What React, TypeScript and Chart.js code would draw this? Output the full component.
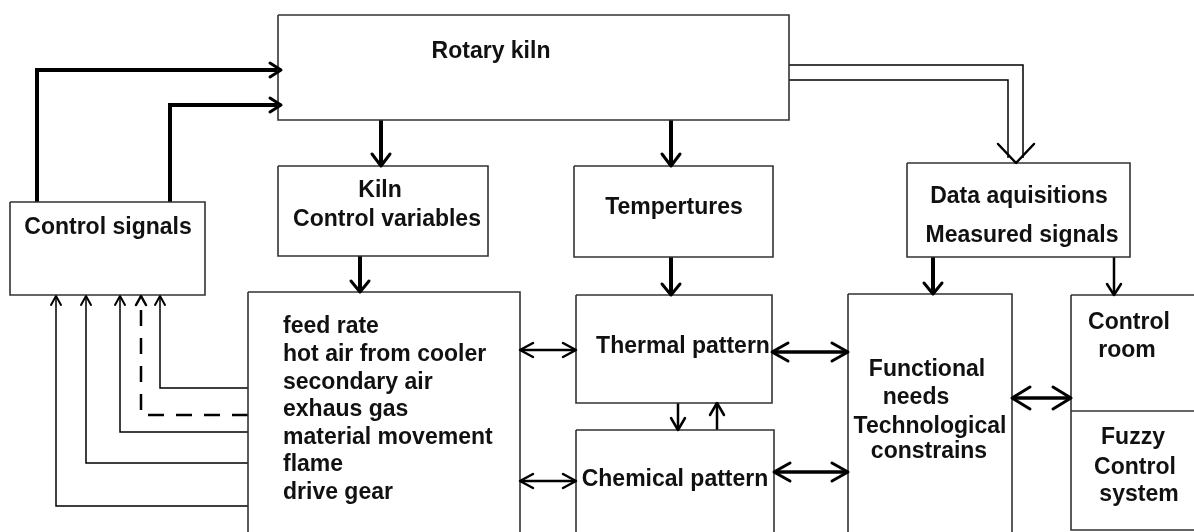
import React, { useEffect, useRef } from "react";
import { Chart, registerables } from "chart.js";

Chart.register(...registerables);

// Diagram blocks: [x1, y1, x2, y2] in diagram units (x: 0..1194, y: 0..532 downward)
const boxNames = ["Rotary kiln", "Control signals", "Kiln CV", "Temperatures", "Data acquisition", "Variables", "Thermal", "Chemical", "Functional", "Control room"];
const boxCoords: number[][] = [
  [278, 15, 789, 120],
  [10, 202, 205, 295],
  [278, 166, 488, 256],
  [574, 166, 773, 257],
  [907, 163, 1130, 257],
  [248, 292, 520, 545],
  [576, 295, 772, 403],
  [576, 430, 774, 545],
  [848, 294, 1012, 545],
  [1071, 295, 1205, 530],
];
const dividerLines: number[][][] = [
  [[1071, 411], [1205, 411]],
];

// Connectors: polyline points, line width, dash, arrow heads
const connectorPaths: number[][][] = [
  [[37, 202], [37, 70], [281, 70]],
  [[170, 202], [170, 105], [281, 105]],
  [[381, 120], [381, 166]],
  [[671, 120], [671, 166]],
  [[789, 65], [1023, 65], [1023, 158]],
  [[789, 80], [1008, 80], [1008, 158]],
  [[360, 256], [360, 292]],
  [[671, 257], [671, 295]],
  [[933, 257], [933, 294]],
  [[1114, 257], [1114, 295]],
  [[248, 388], [160, 388], [160, 296]],
  [[248, 415], [141, 415], [141, 296]],
  [[248, 432], [120, 432], [120, 296]],
  [[248, 463], [86, 463], [86, 296]],
  [[248, 506], [56, 506], [56, 296]],
  [[520, 350], [576, 350]],
  [[520, 481], [576, 481]],
  [[678, 403], [678, 430]],
  [[717, 430], [717, 403]],
  [[772, 352], [848, 352]],
  [[774, 472], [848, 472]],
  [[1012, 398], [1071, 398]],
];
const connectorWidths = [4, 4, 4, 4, 1.5, 1.5, 4, 4, 4, 2.5, 1.5, 2.5, 1.5, 1.5, 1.5, 2.5, 2.5, 2.5, 2.5, 3.5, 3.5, 3.5];
const connectorDashed = [false, false, false, false, false, false, false, false, false, false, false, true, false, false, false, false, false, false, false, false, false, false];
// heads: "end", "both", "none"
const connectorHeads = ["end", "end", "end", "end", "none", "none", "end", "end", "end", "end", "end", "end", "end", "end", "end", "both", "both", "end", "end", "both", "both", "both"];
const headLengths = [11, 11, 12, 12, 0, 0, 11, 11, 11, 11, 9, 9, 9, 9, 9, 13, 13, 12, 12, 16, 16, 18];
const headHalfWidths = [7, 7, 9, 9, 0, 0, 9, 9, 9, 7, 5, 5, 5, 5, 5, 7, 7, 7, 7, 9, 9, 11];

// Hollow arrow head for data acquisition: tip, and two arm ends
const hollowHeadTip = [1016, 163];
const hollowHeadArms = [[998, 144], [1034, 144]];

// Labels: text, x, y, alignment
const labelTexts = [
  "Rotary kiln", "Control signals", "Kiln", "Control variables", "Tempertures",
  "Data aquisitions", "Measured signals",
  "feed rate", "hot air from cooler", "secondary air", "exhaus gas", "material movement", "flame", "drive gear",
  "Thermal pattern", "Chemical pattern",
  "Functional", "needs", "Technological", "constrains",
  "Control", "room", "Fuzzy", "Control", "system",
];
const labelX = [
  491, 108, 380, 387, 674,
  1019, 1022,
  283, 283, 283, 283, 283, 283, 283,
  683, 675,
  927, 916, 930, 929,
  1129, 1127, 1133, 1135, 1139,
];
const labelY = [
  52, 228, 191, 220, 208,
  197, 236,
  327, 355, 383, 410, 438, 465, 493,
  347, 480,
  370, 398, 427, 452,
  323, 351, 438, 468, 495,
];
const labelAlign = [
  "center", "center", "center", "center", "center",
  "center", "center",
  "left", "left", "left", "left", "left", "left", "left",
  "center", "center",
  "center", "center", "center", "center",
  "center", "center", "center", "center", "center",
];

const FONT = 'bold 23px "Liberation Sans", Arial, sans-serif';

export default function App() {
  const ref = useRef<HTMLCanvasElement | null>(null);

  useEffect(() => {
    if (!ref.current) return;

    const datasets: any[] = [];
    boxCoords.forEach((b, i) => {
      const [x1, y1, x2, y2] = b;
      datasets.push({
        label: boxNames[i],
        data: [
          { x: x1, y: y1 }, { x: x2, y: y1 }, { x: x2, y: y2 }, { x: x1, y: y2 }, { x: x1, y: y1 },
        ],
        showLine: true,
        borderColor: "#333333",
        borderWidth: 1.6,
        pointRadius: 0,
        fill: false,
        tension: 0,
        borderJoinStyle: "miter",
      });
    });
    dividerLines.forEach((d) => {
      datasets.push({
        label: "divider",
        data: d.map((p) => ({ x: p[0], y: p[1] })),
        showLine: true,
        borderColor: "#333333",
        borderWidth: 1.6,
        pointRadius: 0,
        fill: false,
      });
    });
    connectorPaths.forEach((path, i) => {
      datasets.push({
        label: "conn" + i,
        data: path.map((p) => ({ x: p[0], y: p[1] })),
        showLine: true,
        borderColor: "#000000",
        borderWidth: connectorWidths[i],
        borderDash: connectorDashed[i] ? [16, 12] : [],
        pointRadius: 0,
        fill: false,
        tension: 0,
        borderJoinStyle: "miter",
        borderCapStyle: "butt",
      });
    });

    const overlay = {
      id: "diagramOverlay",
      afterDatasetsDraw(chart: any) {
        const ctx = chart.ctx;
        const xs = chart.scales.x;
        const ys = chart.scales.y;
        const px = (v: number) => xs.getPixelForValue(v);
        const py = (v: number) => ys.getPixelForValue(v);
        ctx.save();
        ctx.strokeStyle = "#000";
        ctx.lineCap = "round";
        ctx.lineJoin = "round";

        const head = (tip: number[], from: number[], len: number, half: number, w: number) => {
          const tx = px(tip[0]), ty = py(tip[1]);
          const fx = px(from[0]), fy = py(from[1]);
          const dx = tx - fx, dy = ty - fy;
          const d = Math.hypot(dx, dy) || 1;
          const ux = dx / d, uy = dy / d;
          const nx = -uy, ny = ux;
          ctx.lineWidth = w;
          ctx.beginPath();
          ctx.moveTo(tx - ux * len + nx * half, ty - uy * len + ny * half);
          ctx.lineTo(tx, ty);
          ctx.lineTo(tx - ux * len - nx * half, ty - uy * len - ny * half);
          ctx.stroke();
        };

        connectorPaths.forEach((path, i) => {
          const h = connectorHeads[i];
          const w = Math.max(2, Math.min(connectorWidths[i], 3));
          if (h === "end" || h === "both") {
            head(path[path.length - 1], path[path.length - 2], headLengths[i], headHalfWidths[i], w);
          }
          if (h === "both") {
            head(path[0], path[1], headLengths[i], headHalfWidths[i], w);
          }
        });

        // hollow arrow head
        ctx.lineWidth = 2.5;
        ctx.beginPath();
        ctx.moveTo(px(hollowHeadArms[0][0]), py(hollowHeadArms[0][1]));
        ctx.lineTo(px(hollowHeadTip[0]), py(hollowHeadTip[1]));
        ctx.lineTo(px(hollowHeadArms[1][0]), py(hollowHeadArms[1][1]));
        ctx.stroke();

        // labels
        ctx.fillStyle = "#111111";
        ctx.font = FONT;
        ctx.textBaseline = "middle";
        labelTexts.forEach((t, i) => {
          ctx.textAlign = labelAlign[i] as CanvasTextAlign;
          ctx.fillText(t, px(labelX[i]), py(labelY[i]));
        });
        ctx.restore();
      },
    };

    const chart = new Chart(ref.current, {
      type: "scatter",
      data: { datasets },
      options: {
        animation: false,
        responsive: false,
        devicePixelRatio: 1,
        layout: { padding: 0 },
        scales: {
          x: { type: "linear", min: 0, max: 1194, display: false },
          y: { type: "linear", min: 0, max: 532, reverse: true, display: false },
        },
        plugins: {
          legend: { display: false },
          tooltip: { enabled: false },
        },
        elements: { line: { tension: 0 } },
      },
      plugins: [overlay],
    } as any);

    return () => chart.destroy();
  }, []);

  return (
    <div style={{ position: "absolute", left: 0, top: 0, width: 1194, height: 532, background: "#fff" }}>
      <canvas ref={ref} width={1194} height={532} style={{ width: 1194, height: 532, display: "block" }} />
    </div>
  );
}
